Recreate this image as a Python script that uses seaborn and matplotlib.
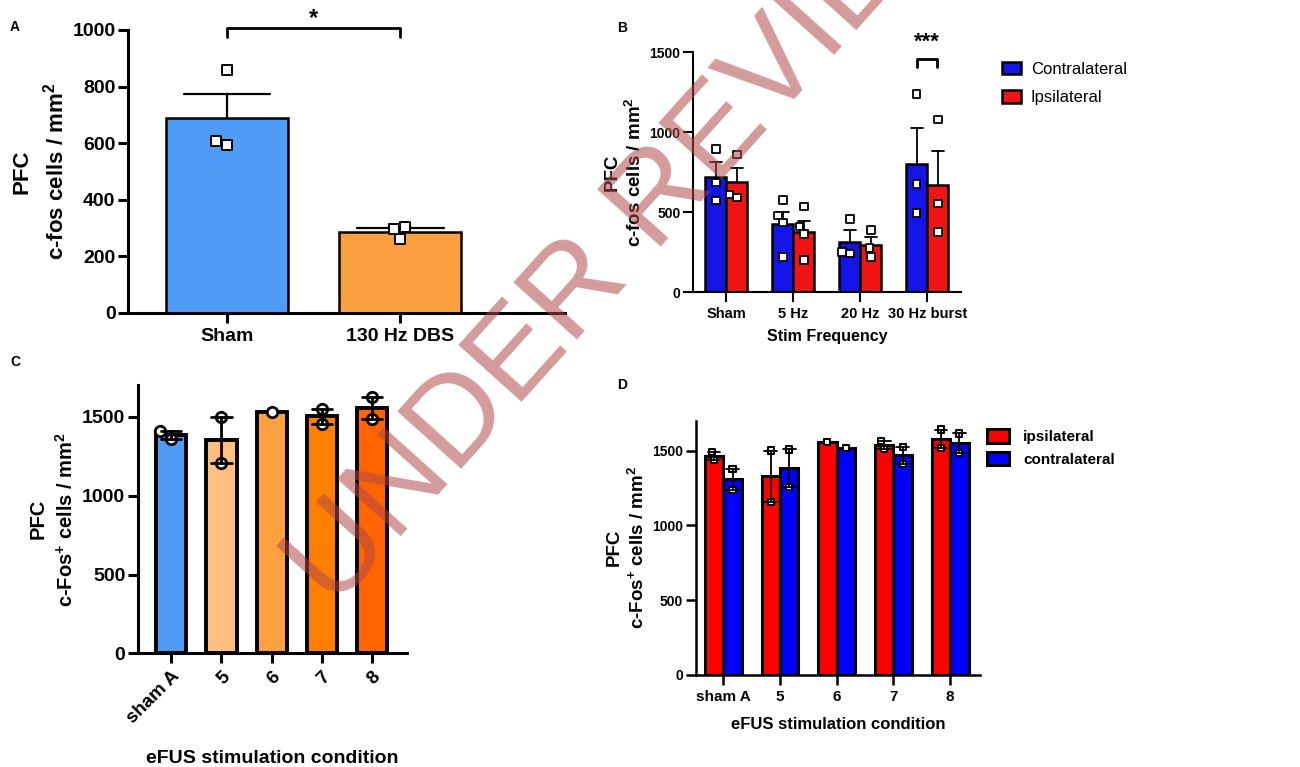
import numpy as np
import pandas as pd
import matplotlib
matplotlib.use("Agg")
import matplotlib.pyplot as plt
import seaborn as sns

# ---- panel A: PFC c-fos, sham vs 130 Hz DBS
a_groups = ["Sham", "130 Hz DBS"]
a_sham = [860, 595, 607]
a_dbs = [303, 262, 295]
a_colors = ["#4f9cf7", "#fba040"]

# ---- panel B: stim frequency, contra vs ipsi
b_freqs = ["Sham", "5 Hz", "20 Hz", "30 Hz burst"]
b_sides = ["Contralateral", "Ipsilateral"]
b_contra = [[893, 685, 573], [575, 480, 435, 220], [456, 242, 252], [1238, 675, 496]]
b_ipsi = [[860, 592, 610], [536, 410, 362, 200], [388, 278, 220], [1079, 554, 377]]
b_colors = ["#1414e6", "#f01414"]

# ---- panel C: eFUS conditions
c_conds = ["sham A", "5", "6", "7", "8"]
c_values = [[1358, 1409], [1500, 1204], [1530], [1546, 1456], [1622, 1488]]
c_colors = ["#4f9cf7", "#ffbf80", "#ffa040", "#ff8000", "#ff6400"]

# ---- panel D: eFUS conditions, ipsi vs contra
d_conds = ["sham A", "5", "6", "7", "8"]
d_sides = ["ipsilateral", "contralateral"]
d_ipsi = [[1489, 1435], [1500, 1156], [1555], [1562, 1512], [1640, 1516]]
d_contra = [[1379, 1234], [1507, 1254], [1514], [1522, 1412], [1614, 1484]]
d_colors = ["#ff0000", "#0000ff"]


def to_long(cats, series, names, catcol):
    rows = []
    for name, groups in zip(names, series):
        for cat, vals in zip(cats, groups):
            for v in vals:
                rows.append((cat, name, v))
    return pd.DataFrame(rows, columns=[catcol, "side", "value"])


dfA = pd.DataFrame({"group": np.repeat(a_groups, [len(a_sham), len(a_dbs)]),
                    "value": a_sham + a_dbs})
dfB = to_long(b_freqs, [b_contra, b_ipsi], b_sides, "freq")
dfC = to_long(c_conds, [c_values], ["all"], "cond")
dfD = to_long(d_conds, [d_ipsi, d_contra], d_sides, "cond")

sns.set_style("ticks")
plt.rcParams["font.family"] = ["Liberation Sans", "DejaVu Sans"]
plt.rcParams["font.weight"] = "bold"
plt.rcParams["axes.labelweight"] = "bold"
plt.rcParams["mathtext.fontset"] = "custom"
plt.rcParams["mathtext.rm"] = "Liberation Sans:bold"
plt.rcParams["mathtext.bf"] = "Liberation Sans:bold"
plt.rcParams["mathtext.default"] = "bf"
for key in ["text.color", "axes.labelcolor", "xtick.color", "ytick.color", "axes.edgecolor"]:
    plt.rcParams[key] = "black"

FOS_LABEL = "PFC\nc-$\\mathbf{Fos}^{+}$ cells / mm$^2$"


def style_axis(ax, tick_size, lw):
    sns.despine(ax=ax)
    for side in ["left", "bottom"]:
        ax.spines[side].set_linewidth(lw)
    ax.tick_params(width=lw, length=7, labelsize=tick_size)
    ax.tick_params(axis="y", pad=2)
    for lab in ax.get_xticklabels() + ax.get_yticklabels():
        lab.set_fontweight("bold")


def squeeze_swarm(ax, factor):
    # seaborn dodges the swarms over 0.8 of the slot, the bars here are narrower
    for coll in ax.collections:
        if "draw" in coll.__dict__:
            del coll.draw
        xy = coll.get_offsets()
        if len(xy) == 0:
            continue
        base = np.round(xy[:, 0])
        xy[:, 0] = base + (xy[:, 0] - base) * factor
        coll.set_offsets(xy)


fig = plt.figure(figsize=(13, 7.67), dpi=100)

# ---------------- A
axA = fig.add_axes([0.0985, 0.592, 0.336, 0.369])
sns.barplot(data=dfA, x="group", y="value", hue="group", order=a_groups, hue_order=a_groups,
            palette=a_colors, saturation=1, width=0.705, errorbar="se", capsize=0.5,
            err_kws={"color": "black", "linewidth": 1.6, "zorder": 0.5},
            edgecolor="black", linewidth=1.8, legend=False, ax=axA)
axA.set_ylim(0, 1000)
sns.swarmplot(data=dfA, x="group", y="value", order=a_groups, marker="s", size=6.5,
              color="white", edgecolor="black", linewidth=1.4, zorder=4, ax=axA)
axA.set_xlim(-0.57, 1.95)
axA.set_yticks([0, 200, 400, 600, 800, 1000])
axA.set_xlabel("")
axA.set_ylabel("PFC\nc-fos cells / mm$^2$", fontsize=16, labelpad=3, linespacing=1.45)
style_axis(axA, 14, 2.2)
axA.plot([0, 0, 1, 1], [975, 1007, 1007, 975], color="black", lw=2, clip_on=False)
axA.text(0.5, 1040, "*", ha="center", va="center", fontsize=17)

# ---------------- B
axB = fig.add_axes([0.533, 0.619, 0.206, 0.313])
sns.barplot(data=dfB, x="freq", y="value", hue="side", order=b_freqs, hue_order=b_sides,
            palette=b_colors, saturation=1, width=0.63, errorbar="se", capsize=0.35,
            err_kws={"color": "black", "linewidth": 1.3, "zorder": 0.5},
            edgecolor="black", linewidth=1.8, ax=axB)
axB.set_ylim(0, 1500)
sns.swarmplot(data=dfB, x="freq", y="value", hue="side", order=b_freqs, hue_order=b_sides,
              dodge=True, palette=["white", "white"], marker="s", size=5.5,
              edgecolor="black", linewidth=1.3, zorder=4, legend=False, ax=axB)
squeeze_swarm(axB, 0.63 / 0.8)
axB.set_xlim(-0.5, 3.5)
axB.set_yticks([0, 500, 1000, 1500])
axB.set_xlabel("Stim Frequency", fontsize=11.5, labelpad=6)
axB.set_ylabel("PFC\nc-fos cells / mm$^2$", fontsize=13.5, labelpad=3, linespacing=1.3)
style_axis(axB, 10, 1.5)
for lab in axB.get_xticklabels():
    lab.set_fontsize(10.5)
axB.plot([2.85, 2.85, 3.15, 3.15], [1408, 1456, 1456, 1408], color="black", lw=2, clip_on=False)
axB.text(3.0, 1560, "***", ha="center", va="center", fontsize=16)
handles, labels = axB.get_legend_handles_labels()
axB.legend(handles, labels, loc="upper left", bbox_to_anchor=(0.764, 0.93),
           bbox_transform=fig.transFigure, frameon=False, borderpad=0,
           handlelength=1.15, handleheight=0.75, handletextpad=0.6, labelspacing=0.8,
           prop={"size": 12, "weight": "normal"})

# ---------------- C
axC = fig.add_axes([0.106, 0.148, 0.207, 0.350])
sns.barplot(data=dfC, x="cond", y="value", hue="cond", order=c_conds, hue_order=c_conds,
            palette=c_colors, saturation=1, width=0.6, errorbar="se", capsize=0.4,
            err_kws={"color": "black", "linewidth": 2, "zorder": 3},
            edgecolor="black", linewidth=2.8, legend=False, ax=axC)
axC.set_ylim(0, 1700)
sns.swarmplot(data=dfC, x="cond", y="value", order=c_conds, marker="o", size=7.5,
              color="white", edgecolor="black", linewidth=2, zorder=2.5, ax=axC)
axC.set_xlim(-0.67, 4.7)
axC.set_yticks([0, 500, 1000, 1500])
axC.set_xlabel("eFUS stimulation condition", fontsize=14, labelpad=16)
axC.set_ylabel(FOS_LABEL, fontsize=14.5, labelpad=4, linespacing=1.4)
style_axis(axC, 14, 2.2)
for lab in axC.get_xticklabels():
    lab.set_rotation(45)
    lab.set_ha("right")
    lab.set_rotation_mode("anchor")
    lab.set_fontsize(13.5)

# ---------------- D
axD = fig.add_axes([0.535, 0.12, 0.219, 0.3316])
sns.barplot(data=dfD, x="cond", y="value", hue="side", order=d_conds, hue_order=d_sides,
            palette=d_colors, saturation=1, width=0.65, errorbar="se", capsize=0.45,
            err_kws={"color": "black", "linewidth": 1.3, "zorder": 3},
            edgecolor="black", linewidth=2.2, ax=axD)
axD.set_ylim(0, 1700)
sns.swarmplot(data=dfD, x="cond", y="value", hue="side", order=d_conds, hue_order=d_sides,
              dodge=True, palette=["white", "white"], marker="s", size=4.5,
              edgecolor="black", linewidth=1.5, zorder=2.5, legend=False, ax=axD)
squeeze_swarm(axD, 0.65 / 0.8)
axD.set_xlim(-0.49, 4.53)
axD.set_yticks([0, 500, 1000, 1500])
axD.set_xlabel("eFUS stimulation condition", fontsize=12, labelpad=10)
axD.set_ylabel(FOS_LABEL, fontsize=13.5, labelpad=3, linespacing=1.3)
style_axis(axD, 10, 1.8)
for lab in axD.get_xticklabels():
    lab.set_fontsize(11)
handles, labels = axD.get_legend_handles_labels()
axD.legend(handles, labels, loc="upper left", bbox_to_anchor=(0.7535, 0.45),
           bbox_transform=fig.transFigure, frameon=False, borderpad=0,
           handlelength=1.45, handleheight=0.95, handletextpad=0.9, labelspacing=0.5,
           prop={"size": 11, "weight": "bold"})

# panel letters
for letter, (px, py) in zip("ABCD", [(15, 27), (622, 28), (15, 362), (622, 385)]):
    fig.text(px / 1300, 1 - py / 767, letter, fontsize=10, fontweight="bold",
             ha="center", va="center")

# watermark
fig.text(636 / 1300, 1 - 228 / 767, "UNDER REVIEW", rotation=48, fontsize=90,
         fontweight="normal", color="#b04848", alpha=0.55, ha="center", va="center",
         zorder=10)

fig.savefig("out.png", dpi=100)
